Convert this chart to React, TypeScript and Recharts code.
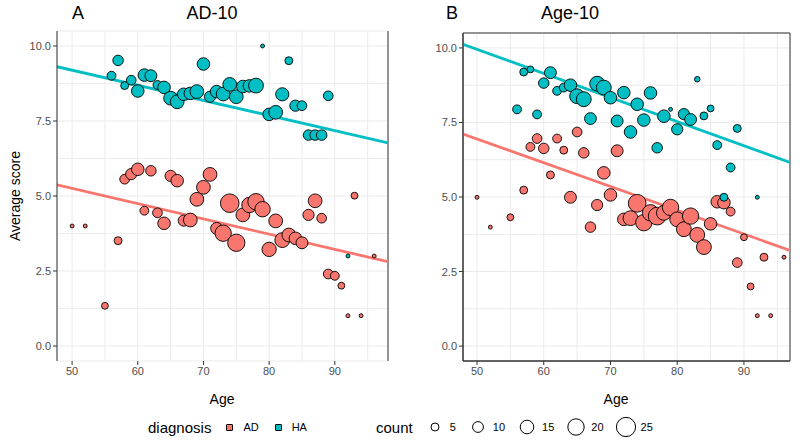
import React from 'react'
import { ScatterChart, Scatter, XAxis, YAxis, ZAxis, CartesianGrid, ReferenceLine, ReferenceArea } from 'recharts'

// [age, average score, count]
const ad10HA = [
  [56, 9.01, 5], [57, 9.52, 7], [58, 8.68, 4], [59, 8.86, 6], [60, 8.5, 10], [61, 9.03, 10],
  [62, 9.01, 9], [63, 8.7, 5], [64, 8.62, 10], [65, 8.26, 12], [66, 8.14, 12], [67, 8.39, 10],
  [68, 8.42, 10], [69, 8.48, 12], [70, 9.4, 10], [71, 8.31, 8], [72, 8.48, 10], [73, 8.4, 12],
  [74, 8.72, 12], [75, 8.31, 12], [76, 8.65, 10], [77, 8.67, 10], [78, 8.68, 14], [79, 10.0, 1],
  [80, 7.72, 10], [81, 7.79, 12], [82, 8.39, 11], [83, 9.51, 4], [84, 8.01, 8], [85, 8.01, 6],
  [86, 7.03, 7], [87, 7.03, 7], [88, 7.03, 7], [89, 8.34, 6], [92, 3.0, 1],
]
const ad10AD = [
  [50, 4.0, 1], [52, 4.0, 1], [55, 1.34, 3], [57, 3.51, 4], [58, 5.56, 6], [59, 5.73, 8],
  [60, 5.89, 10], [61, 4.51, 5], [62, 5.84, 7], [63, 4.44, 6], [64, 4.09, 10], [65, 5.67, 8],
  [66, 5.51, 10], [67, 4.18, 8], [68, 4.2, 12], [69, 4.89, 12], [70, 5.29, 12], [71, 5.72, 12],
  [72, 3.92, 9], [73, 3.76, 17], [74, 4.76, 22], [75, 3.44, 19], [76, 4.37, 12], [77, 4.7, 15],
  [78, 4.81, 17], [79, 4.56, 15], [80, 3.22, 13], [81, 4.17, 12], [82, 3.53, 14], [83, 3.7, 12],
  [84, 3.59, 10], [85, 3.44, 9], [86, 4.37, 8], [87, 4.84, 12], [88, 4.26, 6], [89, 2.4, 6],
  [90, 2.34, 5], [91, 2.01, 3], [92, 1.01, 1], [93, 5.01, 3], [94, 1.01, 1], [96, 3.0, 1],
]
const age10HA = [
  [56, 7.94, 5], [57, 9.19, 4], [58, 9.28, 3], [59, 7.77, 5], [60, 8.82, 7], [61, 9.17, 9],
  [62, 8.56, 5], [63, 8.67, 5], [64, 8.75, 10], [65, 8.38, 14], [66, 8.28, 14], [67, 7.63, 9],
  [68, 8.8, 14], [69, 8.67, 14], [70, 8.33, 10], [71, 7.55, 9], [72, 8.5, 10], [73, 7.18, 10],
  [74, 8.11, 10], [75, 7.58, 10], [76, 8.49, 10], [77, 6.65, 7], [78, 7.71, 10], [79, 7.94, 1],
  [80, 7.27, 8], [81, 7.78, 8], [82, 7.6, 9], [83, 8.95, 2], [84, 7.72, 4], [85, 7.97, 3],
  [86, 6.74, 5], [87, 4.99, 4], [88, 5.99, 5], [89, 7.3, 4], [92, 4.99, 1],
]
const age10AD = [
  [50, 4.99, 1], [52, 3.99, 1], [55, 4.32, 3], [57, 5.23, 4], [58, 6.68, 5], [59, 6.96, 6],
  [60, 6.63, 7], [61, 5.74, 4], [62, 6.96, 5], [63, 6.57, 4], [64, 4.99, 9], [65, 7.18, 6],
  [66, 6.48, 7], [67, 3.99, 7], [68, 4.73, 8], [69, 5.81, 10], [70, 5.07, 10], [71, 6.55, 9],
  [72, 4.25, 10], [73, 4.29, 14], [74, 4.79, 20], [75, 4.14, 17], [76, 4.47, 17], [77, 4.36, 20],
  [78, 4.47, 14], [79, 4.65, 17], [80, 4.25, 14], [81, 3.92, 14], [82, 4.36, 17], [83, 3.73, 14],
  [84, 3.32, 14], [85, 4.1, 10], [86, 4.84, 10], [87, 4.81, 10], [88, 4.51, 5], [89, 2.8, 6],
  [90, 3.65, 3], [91, 2.0, 3], [92, 1.02, 1], [93, 2.98, 4], [94, 1.02, 1], [96, 2.98, 1],
]

// fitted lines, [age, score] at both ends of the panel
const ad10FitHA = [[47.7, 9.31], [98.1, 6.77]]
const ad10FitAD = [[47.7, 5.37], [98.1, 2.81]]
const age10FitHA = [[47.9, 10.12], [96.9, 6.16]]
const age10FitAD = [[47.9, 7.11], [96.9, 3.21]]

const ageTicks = [50, 55, 60, 65, 70, 75, 80, 85, 90, 95]
const ageLabels = [50, 60, 70, 80, 90]
const scoreTicks = [0, 1.25, 2.5, 3.75, 5, 6.25, 7.5, 8.75, 10]
const scoreLabels = [0, 2.5, 5, 7.5, 10]
const countLegend = [5, 10, 15, 20, 25]

const AD_COLOR = '#F8766D'
const HA_COLOR = '#00BFC4'
const FONT = '"Liberation Sans", Arial, Helvetica, sans-serif'

const toPoints = (rows: number[][]) => rows.map(([age, score, count]) => ({ age, score, count }))
const toSegment = (fit: number[][]) => fit.map(([x, y]) => ({ x, y }))

function AgeTick(props: any) {
  const { x, y, payload } = props
  if (!ageLabels.includes(payload.value)) return <g />
  return (
    <g>
      <line x1={x} x2={x} y1={y - 6} y2={y - 2} stroke="#333" strokeWidth={1} />
      <text x={x} y={y} dy="0.75em" textAnchor="middle" fontSize={11} fill="#4D4D4D" fontFamily={FONT}>
        {payload.value}
      </text>
    </g>
  )
}

function ScoreTick(props: any) {
  const { x, y, payload } = props
  if (!scoreLabels.includes(payload.value)) return <g />
  return (
    <g>
      <line x1={x + 2} x2={x + 6} y1={y} y2={y} stroke="#333" strokeWidth={1} />
      <text x={x} y={y} dy="0.36em" textAnchor="end" fontSize={11} fill="#4D4D4D" fontFamily={FONT}>
        {payload.value.toFixed(1)}
      </text>
    </g>
  )
}

type PanelProps = {
  ha: number[][]
  ad: number[][]
  fitHA: number[][]
  fitAD: number[][]
  xDomain: number[]
  top: number
  right: number
  axisWidth: number
  boxed: boolean
}

function Panel({ ha, ad, fitHA, fitAD, xDomain, top, right, axisWidth, boxed }: PanelProps) {
  return (
    <ScatterChart width={400} height={440} margin={{ top, right, bottom: 0, left: 0 }}>
      <CartesianGrid stroke="#EBEBEB" strokeWidth={1} />
      <XAxis
        type="number"
        dataKey="age"
        domain={xDomain}
        allowDataOverflow
        ticks={ageTicks}
        interval={0}
        tick={(p: any) => <AgeTick {...p} />}
        tickLine={false}
        tickSize={4}
        tickMargin={2}
        axisLine={boxed ? { stroke: '#333' } : false}
        height={79}
      />
      <YAxis
        type="number"
        dataKey="score"
        domain={[-0.5, 10.5]}
        allowDataOverflow
        ticks={scoreTicks}
        interval={0}
        tick={(p: any) => <ScoreTick {...p} />}
        tickLine={false}
        tickSize={4}
        tickMargin={2}
        axisLine={{ stroke: '#333' }}
        width={axisWidth}
      />
      <ZAxis type="number" dataKey="count" domain={[1, 25]} range={[12, 310]} />
      {boxed ? (
        <ReferenceArea x1={xDomain[0]} x2={xDomain[1]} y1={-0.5} y2={10.5} fill="none" fillOpacity={0} stroke="#333" strokeWidth={1} />
      ) : (
        <ReferenceLine x={xDomain[1]} stroke="#333" strokeWidth={1} />
      )}
      <Scatter data={toPoints(ad)} fill={AD_COLOR} stroke="#000" strokeWidth={0.9} isAnimationActive={false} />
      <Scatter data={toPoints(ha)} fill={HA_COLOR} stroke="#000" strokeWidth={0.9} isAnimationActive={false} />
      <ReferenceLine segment={toSegment(fitAD)} stroke={AD_COLOR} strokeWidth={2.8} ifOverflow="hidden" />
      <ReferenceLine segment={toSegment(fitHA)} stroke={HA_COLOR} strokeWidth={2.8} ifOverflow="hidden" />
    </ScatterChart>
  )
}

const txt = (s: React.CSSProperties): React.CSSProperties => ({
  position: 'absolute', whiteSpace: 'nowrap', lineHeight: 1, fontFamily: FONT, color: '#000', ...s,
})

export default function App() {
  return (
    <div style={{ position: 'absolute', left: 0, top: 0, width: 800, height: 440, background: '#fff', overflow: 'hidden' }}>
      <div style={{ position: 'absolute', left: 0, top: 0 }}>
        <Panel ha={ad10HA} ad={ad10AD} fitHA={ad10FitHA} fitAD={ad10FitAD} xDomain={[47.7, 98.1]} top={31} right={12} axisWidth={57} boxed={false} />
      </div>
      <div style={{ position: 'absolute', left: 400, top: 0 }}>
        <Panel ha={age10HA} ad={age10AD} fitHA={age10FitHA} fitAD={age10FitAD} xDomain={[47.9, 96.9]} top={33} right={10} axisWidth={63} boxed={true} />
      </div>

      <div style={txt({ left: 72, top: 4, fontSize: 18 })}>A</div>
      <div style={txt({ left: 212, top: 4, fontSize: 18, transform: 'translateX(-50%)' })}>AD-10</div>
      <div style={txt({ left: 446, top: 4, fontSize: 18 })}>B</div>
      <div style={txt({ left: 570, top: 4, fontSize: 18, transform: 'translateX(-50%)' })}>Age-10</div>

      <div style={txt({ left: 15, top: 196, fontSize: 14, transform: 'translate(-50%, -50%) rotate(-90deg)' })}>Average score</div>
      <div style={txt({ left: 222, top: 392, fontSize: 14, transform: 'translateX(-50%)' })}>Age</div>
      <div style={txt({ left: 616, top: 392, fontSize: 14, transform: 'translateX(-50%)' })}>Age</div>

      <div style={{ position: 'absolute', left: 148, top: 416, height: 22, display: 'flex', alignItems: 'center', fontFamily: FONT }}>
        <span style={{ fontSize: 15, marginRight: 10 }}>diagnosis</span>
        {[['AD', AD_COLOR], ['HA', HA_COLOR]].map(([name, color]) => (
          <span key={name} style={{ display: 'flex', alignItems: 'center', marginRight: 11 }}>
            <span style={{ width: 17, display: 'flex', justifyContent: 'center' }}>
              <span style={{ width: 5, height: 5, background: color, border: '1px solid #000', borderRadius: 1 }} />
            </span>
            <span style={{ fontSize: 11, marginLeft: 5 }}>{name}</span>
          </span>
        ))}
        <span style={{ fontSize: 15, marginLeft: 58, marginRight: 11 }}>count</span>
        {countLegend.map((c, i) => (
          <span key={c} style={{ display: 'flex', alignItems: 'center', marginRight: 11 }}>
            <svg width={22} height={22}>
              <circle cx={11} cy={11} r={4 + i * 1.4} fill="#fff" stroke="#000" strokeWidth={1} />
            </svg>
            <span style={{ fontSize: 11, marginLeft: 4 }}>{c}</span>
          </span>
        ))}
      </div>
    </div>
  )
}
